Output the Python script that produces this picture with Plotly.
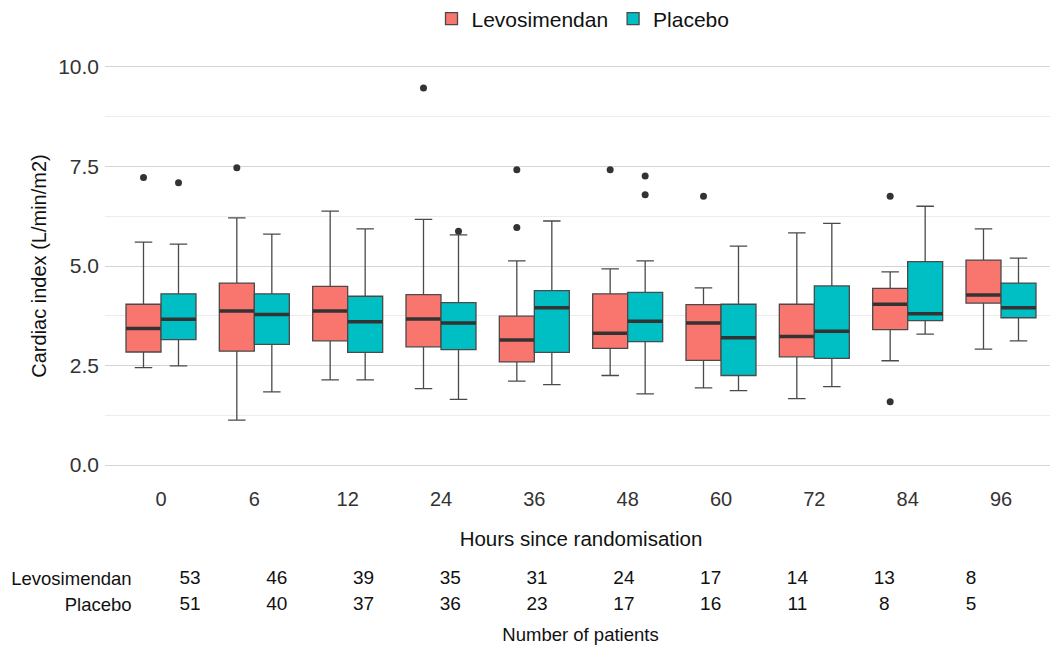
import plotly.graph_objects as go

hours = ["0", "6", "12", "24", "36", "48", "60", "72", "84", "96"]

levo_lo = [2.45, 1.13, 2.14, 1.92, 2.11, 2.25, 1.94, 1.67, 2.62, 2.91]
levo_q1 = [2.84, 2.86, 3.12, 2.97, 2.59, 2.93, 2.63, 2.72, 3.40, 4.07]
levo_med = [3.43, 3.87, 3.87, 3.67, 3.14, 3.31, 3.57, 3.23, 4.04, 4.27]
levo_q3 = [4.04, 4.57, 4.49, 4.28, 3.74, 4.30, 4.03, 4.04, 4.44, 5.15]
levo_hi = [5.60, 6.21, 6.38, 6.17, 5.13, 4.93, 4.45, 5.83, 4.85, 5.93]
levo_out = [[7.22], [7.47], [], [9.47], [7.42, 5.97], [7.42], [6.75], [], [6.75, 1.59], []]

pla_lo = [2.49, 1.84, 2.14, 1.65, 2.02, 1.79, 1.87, 1.97, 3.29, 3.12]
pla_q1 = [3.15, 3.03, 2.83, 2.90, 2.83, 3.10, 2.25, 2.68, 3.63, 3.70]
pla_med = [3.66, 3.78, 3.60, 3.57, 3.95, 3.61, 3.20, 3.36, 3.80, 3.95]
pla_q3 = [4.30, 4.30, 4.24, 4.08, 4.38, 4.34, 4.04, 4.50, 5.11, 4.57]
pla_hi = [5.55, 5.80, 5.93, 5.78, 6.13, 5.13, 5.50, 6.07, 6.50, 5.20]
pla_out = [[7.09], [], [], [5.87], [], [7.26, 6.79], [], [], [], []]

n_levo = [53, 46, 39, 35, 31, 24, 17, 14, 13, 8]
n_pla = [51, 40, 37, 36, 23, 17, 16, 11, 8, 5]

series = [
    ("Levosimendan", "#F8766D", levo_lo, levo_q1, levo_med, levo_q3, levo_hi, levo_out),
    ("Placebo", "#00BFC4", pla_lo, pla_q1, pla_med, pla_q3, pla_hi, pla_out),
]

FONT = "Arial, Liberation Sans, sans-serif"
fig = go.Figure()

for name, color, lo, q1, med, q3, hi, out in series:
    fig.add_trace(go.Box(
        name=name, x=hours, y=out,
        q1=q1, median=med, q3=q3, lowerfence=lo, upperfence=hi,
        offsetgroup=name, fillcolor=color,
        line=dict(color="#4a4a4a", width=1.3),
        boxpoints="outliers", jitter=0, pointpos=0,
        marker=dict(color="#333333", size=7, line=dict(width=0)),
        xaxis="x", yaxis="y",
    ))
    # thick median bar (ggplot style)
    fig.add_trace(go.Box(
        name=name, x=hours,
        q1=med, median=med, q3=med, lowerfence=med, upperfence=med,
        offsetgroup=name, fillcolor="rgba(0,0,0,0)",
        line=dict(color="#333333", width=3.5),
        boxpoints=False, showlegend=False, hoverinfo="skip",
        xaxis="x", yaxis="y",
    ))

for label, counts in (("Levosimendan", n_levo), ("Placebo", n_pla)):
    fig.add_trace(go.Scatter(
        x=hours, y=[label] * len(hours), text=[str(c) for c in counts],
        mode="text", textfont=dict(size=19, color="#111111", family=FONT),
        showlegend=False, xaxis="x2", yaxis="y2", hoverinfo="skip",
    ))

# page body has an 8px margin: figure is placed at (8, 8) in the window
OFF = 8
W, H = 1058 - OFF, 652 - OFF


def fx(x):
    return (x - OFF) / W


def fy(y):
    return 1 - (y - OFF) / H


fig.update_layout(
    width=W, height=H,
    margin=dict(l=0, r=0, t=0, b=0, autoexpand=False),
    paper_bgcolor="white", plot_bgcolor="white",
    font=dict(family=FONT, color="#111111"),
    boxmode="group", boxgap=0.25, boxgroupgap=0.0,
    legend=dict(orientation="h", xref="container", yref="container",
                x=fx(583), xanchor="center", y=fy(19), yanchor="middle",
                font=dict(size=21, color="#111111"), itemwidth=30, tracegroupgap=0),
    xaxis=dict(domain=[fx(105), fx(1057)], anchor="y", type="category", range=[-0.6, 9.6],
               showgrid=False, zeroline=False, showline=False, ticks="",
               tickfont=dict(size=20, color="#333333"), automargin=False,
               title=dict(text="Hours since randomisation", font=dict(size=20.5, color="#111111"), standoff=22)),
    yaxis=dict(domain=[fy(485), fy(47)], anchor="x", range=[-0.5, 10.5],
               tickvals=[0, 2.5, 5, 7.5, 10], tickformat=".1f",
               showgrid=True, gridcolor="#d4d4d4", gridwidth=1.3, zeroline=False, showline=False,
               ticks="", tickfont=dict(size=21, color="#333333"), automargin=False, ticklabelstandoff=5,
               minor=dict(tickvals=[1.25, 3.75, 6.25, 8.75], showgrid=True, gridcolor="#ececec", gridwidth=1),
               title=dict(text="Cardiac index (L/min/m2)", font=dict(size=20, color="#111111"), standoff=6)),
    xaxis2=dict(domain=[fx(146.6), fx(1014.4)], anchor="y2", type="category", range=[-0.5, 9.5],
                showgrid=False, zeroline=False, showline=False, showticklabels=False, ticks="",
                automargin=False,
                title=dict(text="Number of patients", font=dict(size=18.5, color="#111111"), standoff=10)),
    yaxis2=dict(domain=[fy(618), fy(566)], anchor="x2", type="category",
                categoryorder="array", categoryarray=["Placebo", "Levosimendan"], range=[-0.5, 1.5],
                showgrid=False, zeroline=False, showline=False, ticks="",
                tickfont=dict(size=18.5, color="#111111"), ticklabelstandoff=14, automargin=False),
)

fig.write_html("out.html")
